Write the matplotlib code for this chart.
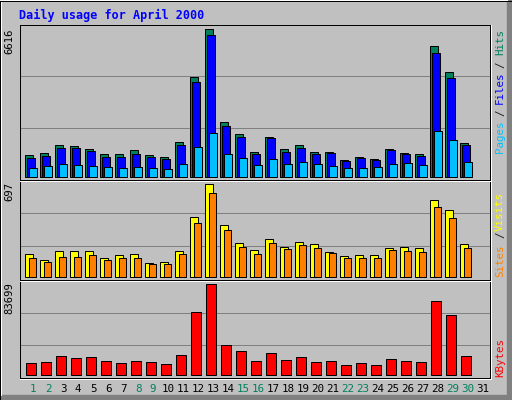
import matplotlib
matplotlib.use("Agg")
import matplotlib.pyplot as plt
from matplotlib.patches import Rectangle
from matplotlib.transforms import blended_transform_factory

# Daily values, April 2000
days = list(range(1, 32))
hits = [974, 1046, 1423, 1378, 1243, 1019, 1019, 1198, 974, 884, 1557, 4475, 6616, 2455, 1916,
        1109, 1782, 1243, 1423, 1109, 1109, 750, 884, 794, 1243, 1064, 1019, 5866, 4699, 1512, 0]
files = [821, 929, 1288, 1288, 1153, 884, 884, 1019, 884, 794, 1423, 4250, 6373, 2275, 1782,
         1019, 1737, 1109, 1288, 1019, 1064, 705, 839, 750, 1198, 1019, 929, 5552, 4430, 1423, 0]
pages = [390, 480, 570, 525, 480, 435, 390, 435, 390, 346, 570, 1333, 1961, 1019, 839,
         525, 794, 570, 660, 570, 480, 390, 390, 435, 570, 615, 525, 2051, 1647, 660, 0]
visits = [169, 124, 192, 192, 192, 139, 161, 169, 101, 109, 192, 448, 697, 388, 252,
          199, 282, 222, 259, 244, 184, 154, 161, 161, 214, 222, 214, 576, 501, 244, 0]
sites = [139, 109, 146, 146, 161, 124, 139, 139, 94, 94, 169, 403, 629, 350, 222,
         169, 252, 207, 237, 214, 177, 139, 139, 139, 199, 192, 184, 523, 441, 214, 0]
kbytes = [11038, 11957, 17476, 15637, 16556, 12877, 11038, 12877, 11957, 10118, 18396, 57947,
          83699, 27594, 22075, 12877, 20236, 13797, 16556, 11957, 12877, 9198, 11038, 9198,
          14717, 12877, 11957, 68065, 55188, 17476, 0]
weekend = [1, 2, 8, 9, 15, 16, 22, 23, 29, 30]

GREY = "#C0C0C0"
DARK = "#808080"
C_HITS, C_FILES, C_PAGES = "#00805C", "#0000FF", "#00C0FF"
C_VISITS, C_SITES, C_KB = "#FFFF00", "#FF8000", "#FF0000"
SEP = "#202020"
MONO = "DejaVu Sans Mono"
PX = 0.72  # one pixel in points at 100 dpi

W, H = 512, 400
fig = plt.figure(figsize=(W / 100, H / 100), dpi=100)

bg = fig.add_axes([0, 0, 1, 1])
bg.set_xlim(0, W)
bg.set_ylim(H, 0)
bg.axis("off")
bg.add_patch(Rectangle((0, 0), W, H, color=GREY))


def px_axes(x0, y0, x1, y1):
    ax = fig.add_axes([x0 / W, 1 - y1 / H, (x1 - x0) / W, (y1 - y0) / H])
    ax.set_facecolor(GREY)
    ax.set_xlim(0.133, 31.467)
    for s in ax.spines.values():
        s.set_color("black")
        s.set_linewidth(PX)
    ax.set_xticks([])
    ax.set_yticks([])
    for f in (0.338, 0.668):
        ax.plot([0, 1], [f, f], color=DARK, lw=PX, transform=ax.transAxes, zorder=1)
    return ax


def bars(ax, vals, off, width, color):
    xs = [d + off for d, v in zip(days, vals) if v > 0]
    ys = [v for v in vals if v > 0]
    ax.bar(xs, ys, width=width, align="edge",
           color=color, edgecolor="black", linewidth=PX, zorder=2)


ax1 = px_axes(20, 25, 490, 180)
ax2 = px_axes(20, 180, 490, 280)
ax3 = px_axes(20, 280, 490, 378)

bars(ax1, hits, -0.533, 0.533, C_HITS)
bars(ax1, files, -0.4, 0.533, C_FILES)
bars(ax1, pages, -0.267, 0.533, C_PAGES)
ax1.set_ylim(-max(hits) * 0.022, max(hits) * 1.03)

bars(ax2, visits, -0.533, 0.55, C_VISITS)
bars(ax2, sites, -0.267, 0.5, C_SITES)
ax2.set_ylim(-max(visits) * 0.036, max(visits) * 1.046)

bars(ax3, kbytes, -0.467, 0.7, C_KB)
ax3.set_ylim(-max(kbytes) * 0.03, max(kbytes) * 1.047)

# day labels under the bottom panel
tr = blended_transform_factory(ax3.transData, ax3.transAxes)
for d in days:
    ax3.text(d, -0.11, str(d), transform=tr, ha="center", va="center",
             family=MONO, fontsize=7.8,
             color=C_HITS if d in weekend else "black")

# max values on the left
for ax, v in ((ax1, max(hits)), (ax2, max(visits)), (ax3, max(kbytes))):
    ax.text(-0.012, 0.98, str(v), transform=ax.transAxes, rotation=90,
            ha="right", va="top", family=MONO, fontsize=7.6)


def side_label(start_px, parts, cw=6.1):
    # parts: (text, colour, char index); text runs upward from start_px
    for t, c, i in parts:
        bg.text(500, start_px - i * cw, t, rotation=90, ha="center", va="bottom",
                family=MONO, fontsize=7.8, color=c)


side_label(153, [("Pages", C_PAGES, 0), ("/", SEP, 6), ("Files", C_FILES, 8),
                 ("/", SEP, 14), ("Hits", C_HITS, 16)])
side_label(277, [("Sites", C_SITES, 0), ("/", SEP, 6.8), ("Visits", C_VISITS, 8)], cw=5.7)
side_label(377, [("KBytes", C_KB, 0)])

# title
bg.text(19, 15, "Daily usage for April 2000", ha="left", va="center",
        family=MONO, fontweight="bold", fontsize=8.5, color="#0000FF")

# bevelled frame and panel highlights
top = fig.add_axes([0, 0, 1, 1], facecolor="none")
top.set_xlim(0, W)
top.set_ylim(H, 0)
top.axis("off")
top.plot([1, 1, W - 5], [H - 5, 1, 1], color="white", lw=2 * PX)
top.add_patch(Rectangle((W - 5, 0), 5, H, color=DARK))
top.add_patch(Rectangle((0, H - 5), W, 5, color=DARK))
top.plot([0, W - 0.5, W - 0.5, 0, 0], [0.5, 0.5, H - 0.5, H - 0.5, 0.5], color="black", lw=PX)
top.plot([491, 491], [25, 379], color="white", lw=PX)
top.plot([20, 491], [379, 379], color="white", lw=PX)
top.plot([20, 490], [181, 181], color="white", lw=PX)
top.plot([20, 490], [281, 281], color="white", lw=PX)

fig.savefig("out.png", dpi=100)
